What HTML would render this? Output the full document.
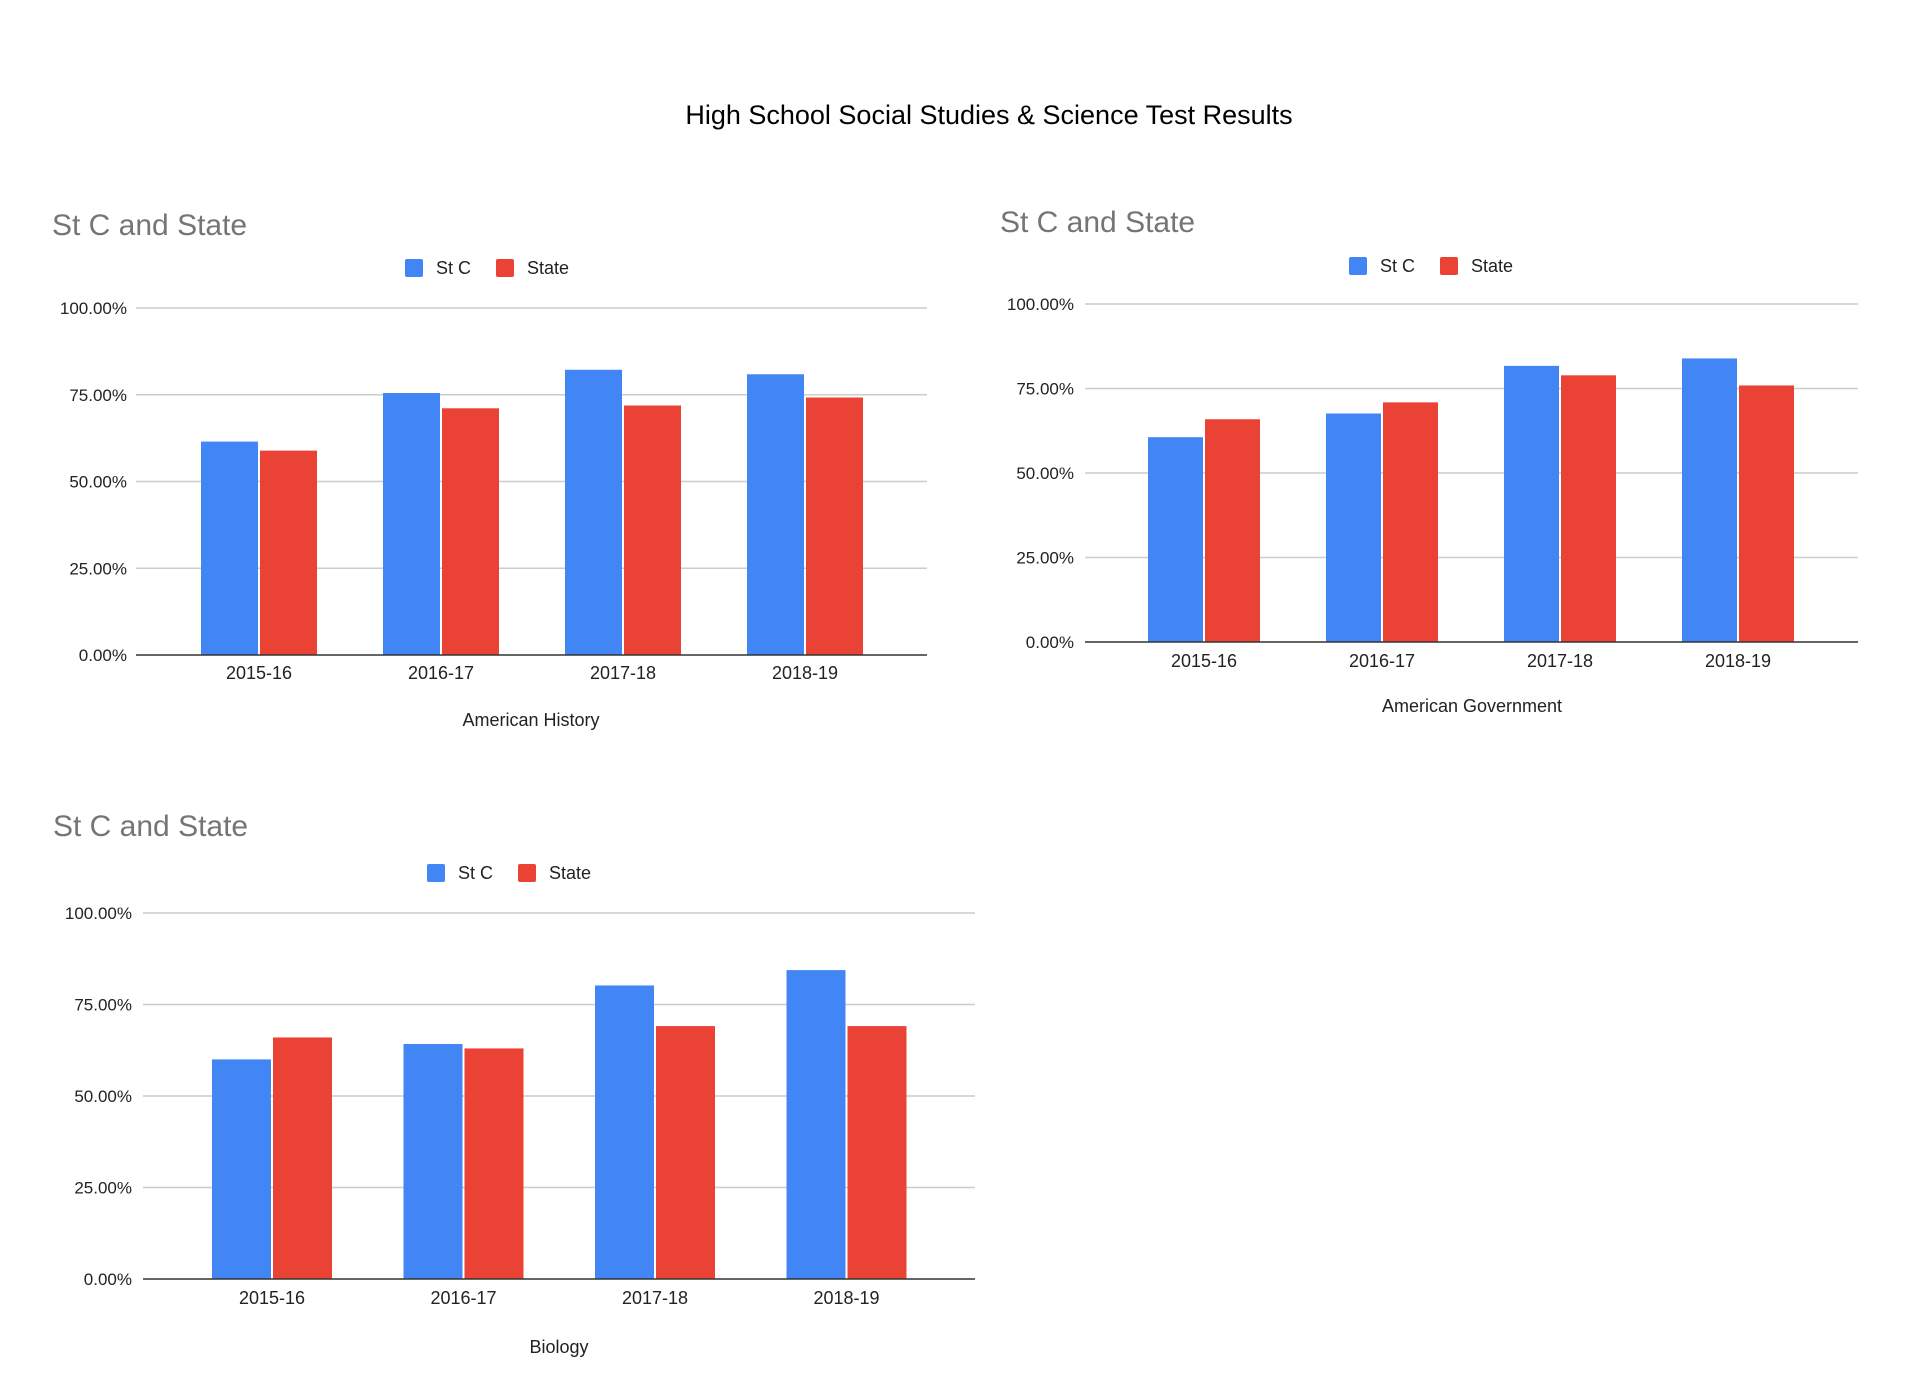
<!DOCTYPE html>
<html><head><meta charset="utf-8"><style>
html,body{margin:0;padding:0;background:#fff;}
svg{display:block;font-family:"Liberation Sans",Arial,sans-serif;}
</style></head><body>
<svg id="page" width="1919" height="1395" viewBox="0 0 1919 1395">
<text x="989" y="124" text-anchor="middle" font-size="27" fill="#000">High School Social Studies &amp; Science Test Results</text>
</svg>
<script>
const categories = ["2015-16","2016-17","2017-18","2018-19"];
const tickValues = [0,0.25,0.5,0.75,1];
const tickLabels = ["0.00%","25.00%","50.00%","75.00%","100.00%"];
const historyStC = [0.615,0.755,0.822,0.809];
const historyState = [0.589,0.711,0.719,0.742];
const govStC = [0.606,0.676,0.817,0.839];
const govState = [0.659,0.709,0.789,0.759];
const bioStC = [0.600,0.642,0.802,0.844];
const bioState = [0.660,0.630,0.691,0.691];

const NS = "http://www.w3.org/2000/svg";
const svg = document.getElementById('page');
function mk(tag, attrs, parent){const e=document.createElementNS(NS,tag);for(const k in attrs)e.setAttribute(k,attrs[k]);(parent||svg).appendChild(e);return e;}

const layouts = [
 {name:"american-history",title:"American History",stc:historyStC,state:historyState,
  gx0:136,gx1:927,y0:655,y1:308,c0:259,step:182,bw:57,tx:52,ty:235,lgY:259,lgX:405,tickR:127,labY:679,atX:531,atY:726},
 {name:"american-government",title:"American Government",stc:govStC,state:govState,
  gx0:1085,gx1:1858,y0:642,y1:304,c0:1204,step:178,bw:55,tx:1000,ty:232,lgY:257,lgX:1349,tickR:1074,labY:667,atX:1472,atY:712},
 {name:"biology",title:"Biology",stc:bioStC,state:bioState,
  gx0:143,gx1:975,y0:1279,y1:913,c0:272,step:191.5,bw:59,tx:53,ty:836,lgY:864,lgX:427,tickR:132,labY:1304,atX:559,atY:1353}
];

layouts.forEach(L=>{
  const g = mk('g',{});
  
  
  const yScale = v => L.y0 - v*(L.y0-L.y1);
  const xCenter = i => L.c0 + i*L.step;
  const t = mk('text',{x:L.tx,y:L.ty,'font-size':30,fill:'#757575'},g);
  t.textContent = "St C and State";
  
  
  // legend
  const lg = mk('g',{},g);
  
  
  const r1 = mk('rect',{x:L.lgX,y:L.lgY,width:18,height:18,rx:2,fill:'#4285f4'},lg);
  
  
  const t1 = mk('text',{x:L.lgX+31,y:L.lgY+15,'font-size':18,fill:'#222'},lg);
  t1.textContent = "St C";
  
  
  const r2 = mk('rect',{x:L.lgX+91,y:L.lgY,width:18,height:18,rx:2,fill:'#ea4335'},lg);
  
  
  const t2 = mk('text',{x:L.lgX+122,y:L.lgY+15,'font-size':18,fill:'#222'},lg);
  t2.textContent = "State";
  
  
  // grid + ticks
  tickValues.forEach((v,i)=>{
    const y = yScale(v);
    if(i>0){
      const ln = mk('line',{x1:L.gx0,x2:L.gx1,y1:y,y2:y,stroke:'#cccccc','stroke-width':1.5},g);
      
      
    }
    const tl = mk('text',{x:L.tickR,y:y+6,'text-anchor':'end','font-size':17,fill:'#222'},g);
    tl.textContent = tickLabels[i];
    
    
  });
  // bars
  categories.forEach((c,i)=>{
    const cx = xCenter(i);
    const hb = mk('rect',{x:cx-L.bw-1,y:yScale(L.stc[i]),width:L.bw,height:L.y0-yScale(L.stc[i]),fill:'#4285f4'},g);
    
    
    const sb = mk('rect',{x:cx+1,y:yScale(L.state[i]),width:L.bw,height:L.y0-yScale(L.state[i]),fill:'#ea4335'},g);
    
    
    const xl = mk('text',{x:cx,y:L.labY,'text-anchor':'middle','font-size':18,fill:'#222'},g);
    xl.textContent = c;
    
    
  });
  const ax = mk('line',{x1:L.gx0,x2:L.gx1,y1:L.y0,y2:L.y0,stroke:'#333','stroke-width':1.5},g);
  
  
  const at = mk('text',{x:L.atX,y:L.atY,'text-anchor':'middle','font-size':18,fill:'#222'},g);
  at.textContent = L.title;
  
  
});
</script>
</body></html>
